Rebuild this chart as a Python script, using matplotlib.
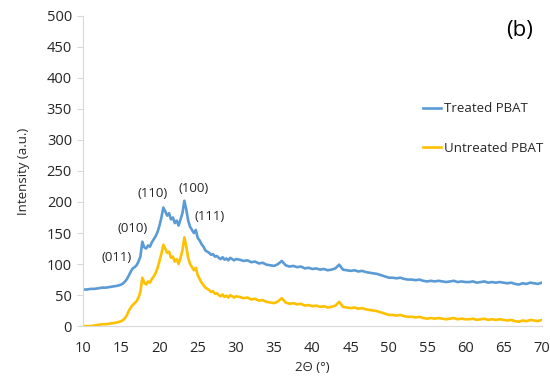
import numpy as np
import matplotlib.pyplot as plt

# 2theta sample positions
two_theta = np.concatenate([np.arange(10, 15.01, 0.5),
                            np.arange(15.25, 30.01, 0.25),
                            np.arange(30.5, 70.01, 0.5)])

treated = [59, 59, 60, 60, 61, 62, 62, 63, 64, 65, 67,
           69, 72, 76,
           82, 88, 93, 95, 98, 104, 112, 136, 127, 125, 130, 128,
           135, 140, 145, 152, 162, 175, 191, 185, 178, 182, 172, 175,
           166, 170, 162, 172, 182, 202, 188, 170, 160, 155, 150, 155,
           142, 138, 132, 128, 122, 120, 118, 115, 116, 112, 113, 110,
           108, 111, 107, 109, 106, 110, 108, 106, 108,
           107, 105, 106, 103, 104, 101, 102, 99, 98, 97, 100, 105, 98, 96, 97, 95, 96, 93, 94, 92,
           93, 91, 92, 90, 91, 93, 99, 91, 90, 89, 90, 88, 89, 87, 86, 85, 84, 82, 80, 78,
           78, 77, 78, 76, 75, 75, 74, 75, 73, 72, 73, 72, 73, 72, 71, 72, 73, 71, 72, 71,
           71, 72, 70, 71, 72, 70, 71, 70, 71, 70, 69, 70, 68, 67, 69, 68, 70, 69, 68, 70]

untreated = [0, 0, 0, 1, 2, 3, 3, 4, 5, 6, 8,
             10, 13, 18,
             25, 30, 34, 37, 40, 46, 55, 78, 70, 67, 72, 70,
             76, 80, 86, 94, 105, 117, 131, 125, 118, 120, 110, 112,
             104, 108, 100, 110, 122, 143, 128, 110, 100, 95, 90, 94,
             82, 76, 70, 66, 62, 60, 58, 55, 56, 52, 53, 50,
             48, 51, 47, 49, 46, 50, 48, 46, 48,
             47, 45, 46, 43, 44, 41, 42, 39, 38, 37, 40, 45, 38, 36, 37, 35, 36, 33, 34, 32,
             33, 31, 32, 30, 31, 33, 39, 31, 30, 29, 30, 28, 29, 27, 26, 25, 24, 22, 20, 18,
             18, 17, 18, 16, 15, 15, 14, 15, 13, 12, 13, 12, 13, 12, 11, 12, 13, 11, 12, 11,
             11, 12, 10, 11, 12, 10, 11, 10, 11, 10, 9, 10, 8, 7, 9, 8, 10, 9, 8, 10]

peak_labels = ["(011)", "(010)", "(110)", "(100)", "(111)"]
peak_x = [14.4, 16.5, 19.15, 24.4, 26.6]
peak_y = [110, 158, 214, 221, 176]

plt.rcParams['font.family'] = ['Open Sans', 'DejaVu Sans']
txt = '#262626'

fig = plt.figure(figsize=(5.5, 3.77), dpi=100)
ax = fig.add_axes([0.151, 0.135, 0.834, 0.823])

ax.plot(two_theta, treated, color='#5B9BD5', lw=1.9, label='Treated PBAT')
ax.plot(two_theta, untreated, color='#FFC000', lw=1.9, label='Untreated PBAT')

for lab, px, py in zip(peak_labels, peak_x, peak_y):
    ax.text(px, py, lab, ha='center', va='center', fontsize=9.5, color=txt)

ax.set_xlim(10, 70)
ax.set_ylim(0, 500)
ax.set_xticks(np.arange(10, 71, 5))
ax.set_yticks(np.arange(0, 501, 50))
for s in ['top', 'right']:
    ax.spines[s].set_visible(False)
for s in ['left', 'bottom']:
    ax.spines[s].set_color('#D9D9D9')
ax.tick_params(axis='y', colors='#D9D9D9', labelcolor=txt, labelsize=10.5, length=4, pad=4)
ax.tick_params(axis='x', length=0, labelcolor=txt, labelsize=10.5, pad=11)

ax.set_xlabel('2Θ (°)', fontsize=9.5, color=txt, labelpad=3)
ax.set_ylabel('Intensity (a.u.)', fontsize=9.5, color=txt, labelpad=12)

ax.legend(loc='upper left', frameon=False,
          fontsize=9.5, handlelength=1.4, handletextpad=0.2, labelspacing=2.0,
          labelcolor=txt, bbox_to_anchor=(0.747, 0.76), bbox_transform=fig.transFigure)

fig.text(0.945, 0.92, '(b)', fontsize=16, color='black', ha='center', va='center')

fig.savefig('out.png', dpi=100)
